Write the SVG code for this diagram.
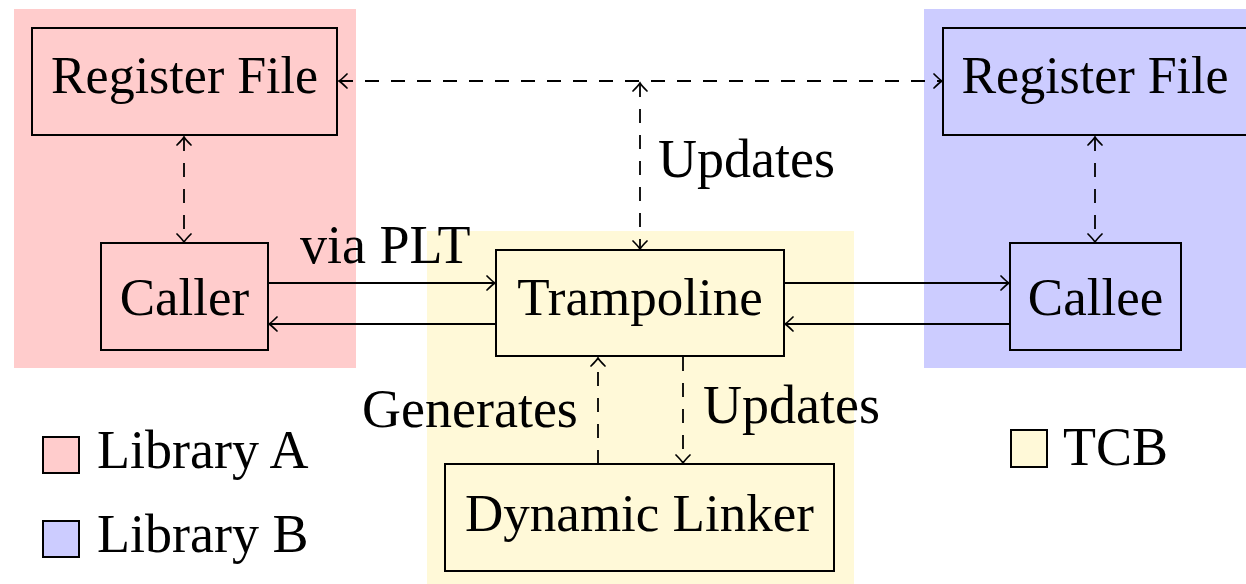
<svg xmlns="http://www.w3.org/2000/svg" width="1246" height="584" viewBox="0 0 1246 584">
<style>
  text { font-family: "Liberation Serif", "Times New Roman", serif; font-size: 53px; fill: #000; }
  .node text { text-anchor: middle; }
  .rf { font-size: 52px; }
  .lbl { font-size: 54px; }
  .box { stroke: #000; stroke-width: 2; }
  .pink { fill: #FFCCCC; }
  .blue { fill: #CCCCFF; }
  .yellow { fill: #FFF9D8; }
  .edge { fill: none; stroke: #000; stroke-width: 1.8; }
  .dash { stroke-dasharray: 14 12; }
</style>
<defs>
  <marker id="arr" viewBox="-11 -8 13 16" refX="0" refY="0" markerWidth="13" markerHeight="16" markerUnits="userSpaceOnUse" orient="auto-start-reverse">
    <path d="M -8 -7 Q -2.5 -1.5 0 0 Q -2.5 1.5 -8 7" fill="none" stroke="#000" stroke-width="1.7" stroke-linecap="round"/>
  </marker>
</defs>

<g id="backgrounds">
  <rect class="pink" x="14" y="9" width="342" height="359"/>
  <rect class="yellow" x="427" y="231" width="427" height="360"/>
  <rect class="blue" x="924" y="9" width="330" height="359"/>
</g>

<g id="regA" class="node">
  <rect class="box pink" x="32" y="28" width="305" height="107"/>
  <text class="rf" x="184.5" y="93">Register File</text>
</g>
<g id="caller" class="node">
  <rect class="box pink" x="101" y="243" width="167" height="107"/>
  <text x="184.5" y="315">Caller</text>
</g>
<g id="regB" class="node">
  <rect class="box blue" x="943" y="28" width="310" height="107"/>
  <text class="rf" x="1095" y="93">Register File</text>
</g>
<g id="callee" class="node">
  <rect class="box blue" x="1010" y="243" width="171" height="107"/>
  <text x="1095.5" y="315">Callee</text>
</g>
<g id="trampoline" class="node">
  <rect class="box yellow" x="496" y="250" width="288" height="106"/>
  <text x="640" y="315">Trampoline</text>
</g>
<g id="linker" class="node">
  <rect class="box yellow" x="445" y="464" width="389" height="107"/>
  <text x="639.5" y="531">Dynamic Linker</text>
</g>

<g id="connectors">
  <line class="edge" x1="268" y1="283" x2="495" y2="283" marker-end="url(#arr)"/>
  <line class="edge" x1="496" y1="324" x2="269" y2="324" marker-end="url(#arr)"/>
  <line class="edge" x1="784" y1="283" x2="1009" y2="283" marker-end="url(#arr)"/>
  <line class="edge" x1="1010" y1="324" x2="785" y2="324" marker-end="url(#arr)"/>
  <line class="edge dash" x1="184" y1="137" x2="184" y2="242" marker-start="url(#arr)" marker-end="url(#arr)"/>
  <line class="edge dash" x1="1095" y1="137" x2="1095" y2="242" marker-start="url(#arr)" marker-end="url(#arr)"/>
  <line class="edge dash" x1="339" y1="81" x2="942" y2="81" marker-start="url(#arr)" marker-end="url(#arr)"/>
  <line class="edge dash" x1="640" y1="83" x2="640" y2="249" marker-start="url(#arr)" marker-end="url(#arr)"/>
  <line class="edge dash" x1="598" y1="464" x2="598" y2="358" marker-end="url(#arr)"/>
  <line class="edge dash" x1="683" y1="357" x2="683" y2="463" marker-end="url(#arr)"/>
</g>

<g id="labels">
  <text class="lbl" x="300" y="263">via PLT</text>
  <text class="lbl" x="658" y="177">Updates</text>
  <text class="lbl" x="362" y="427">Generates</text>
  <text class="lbl" x="703" y="423">Updates</text>
</g>

<g id="legend">
  <rect class="box pink" x="43" y="437" width="36" height="36"/>
  <text class="lbl" x="97" y="468">Library A</text>
  <rect class="box blue" x="43" y="521" width="36" height="36"/>
  <text class="lbl" x="97" y="552">Library B</text>
  <rect class="box yellow" x="1011" y="430" width="36" height="37"/>
  <text class="lbl" x="1063" y="465">TCB</text>
</g>
</svg>
